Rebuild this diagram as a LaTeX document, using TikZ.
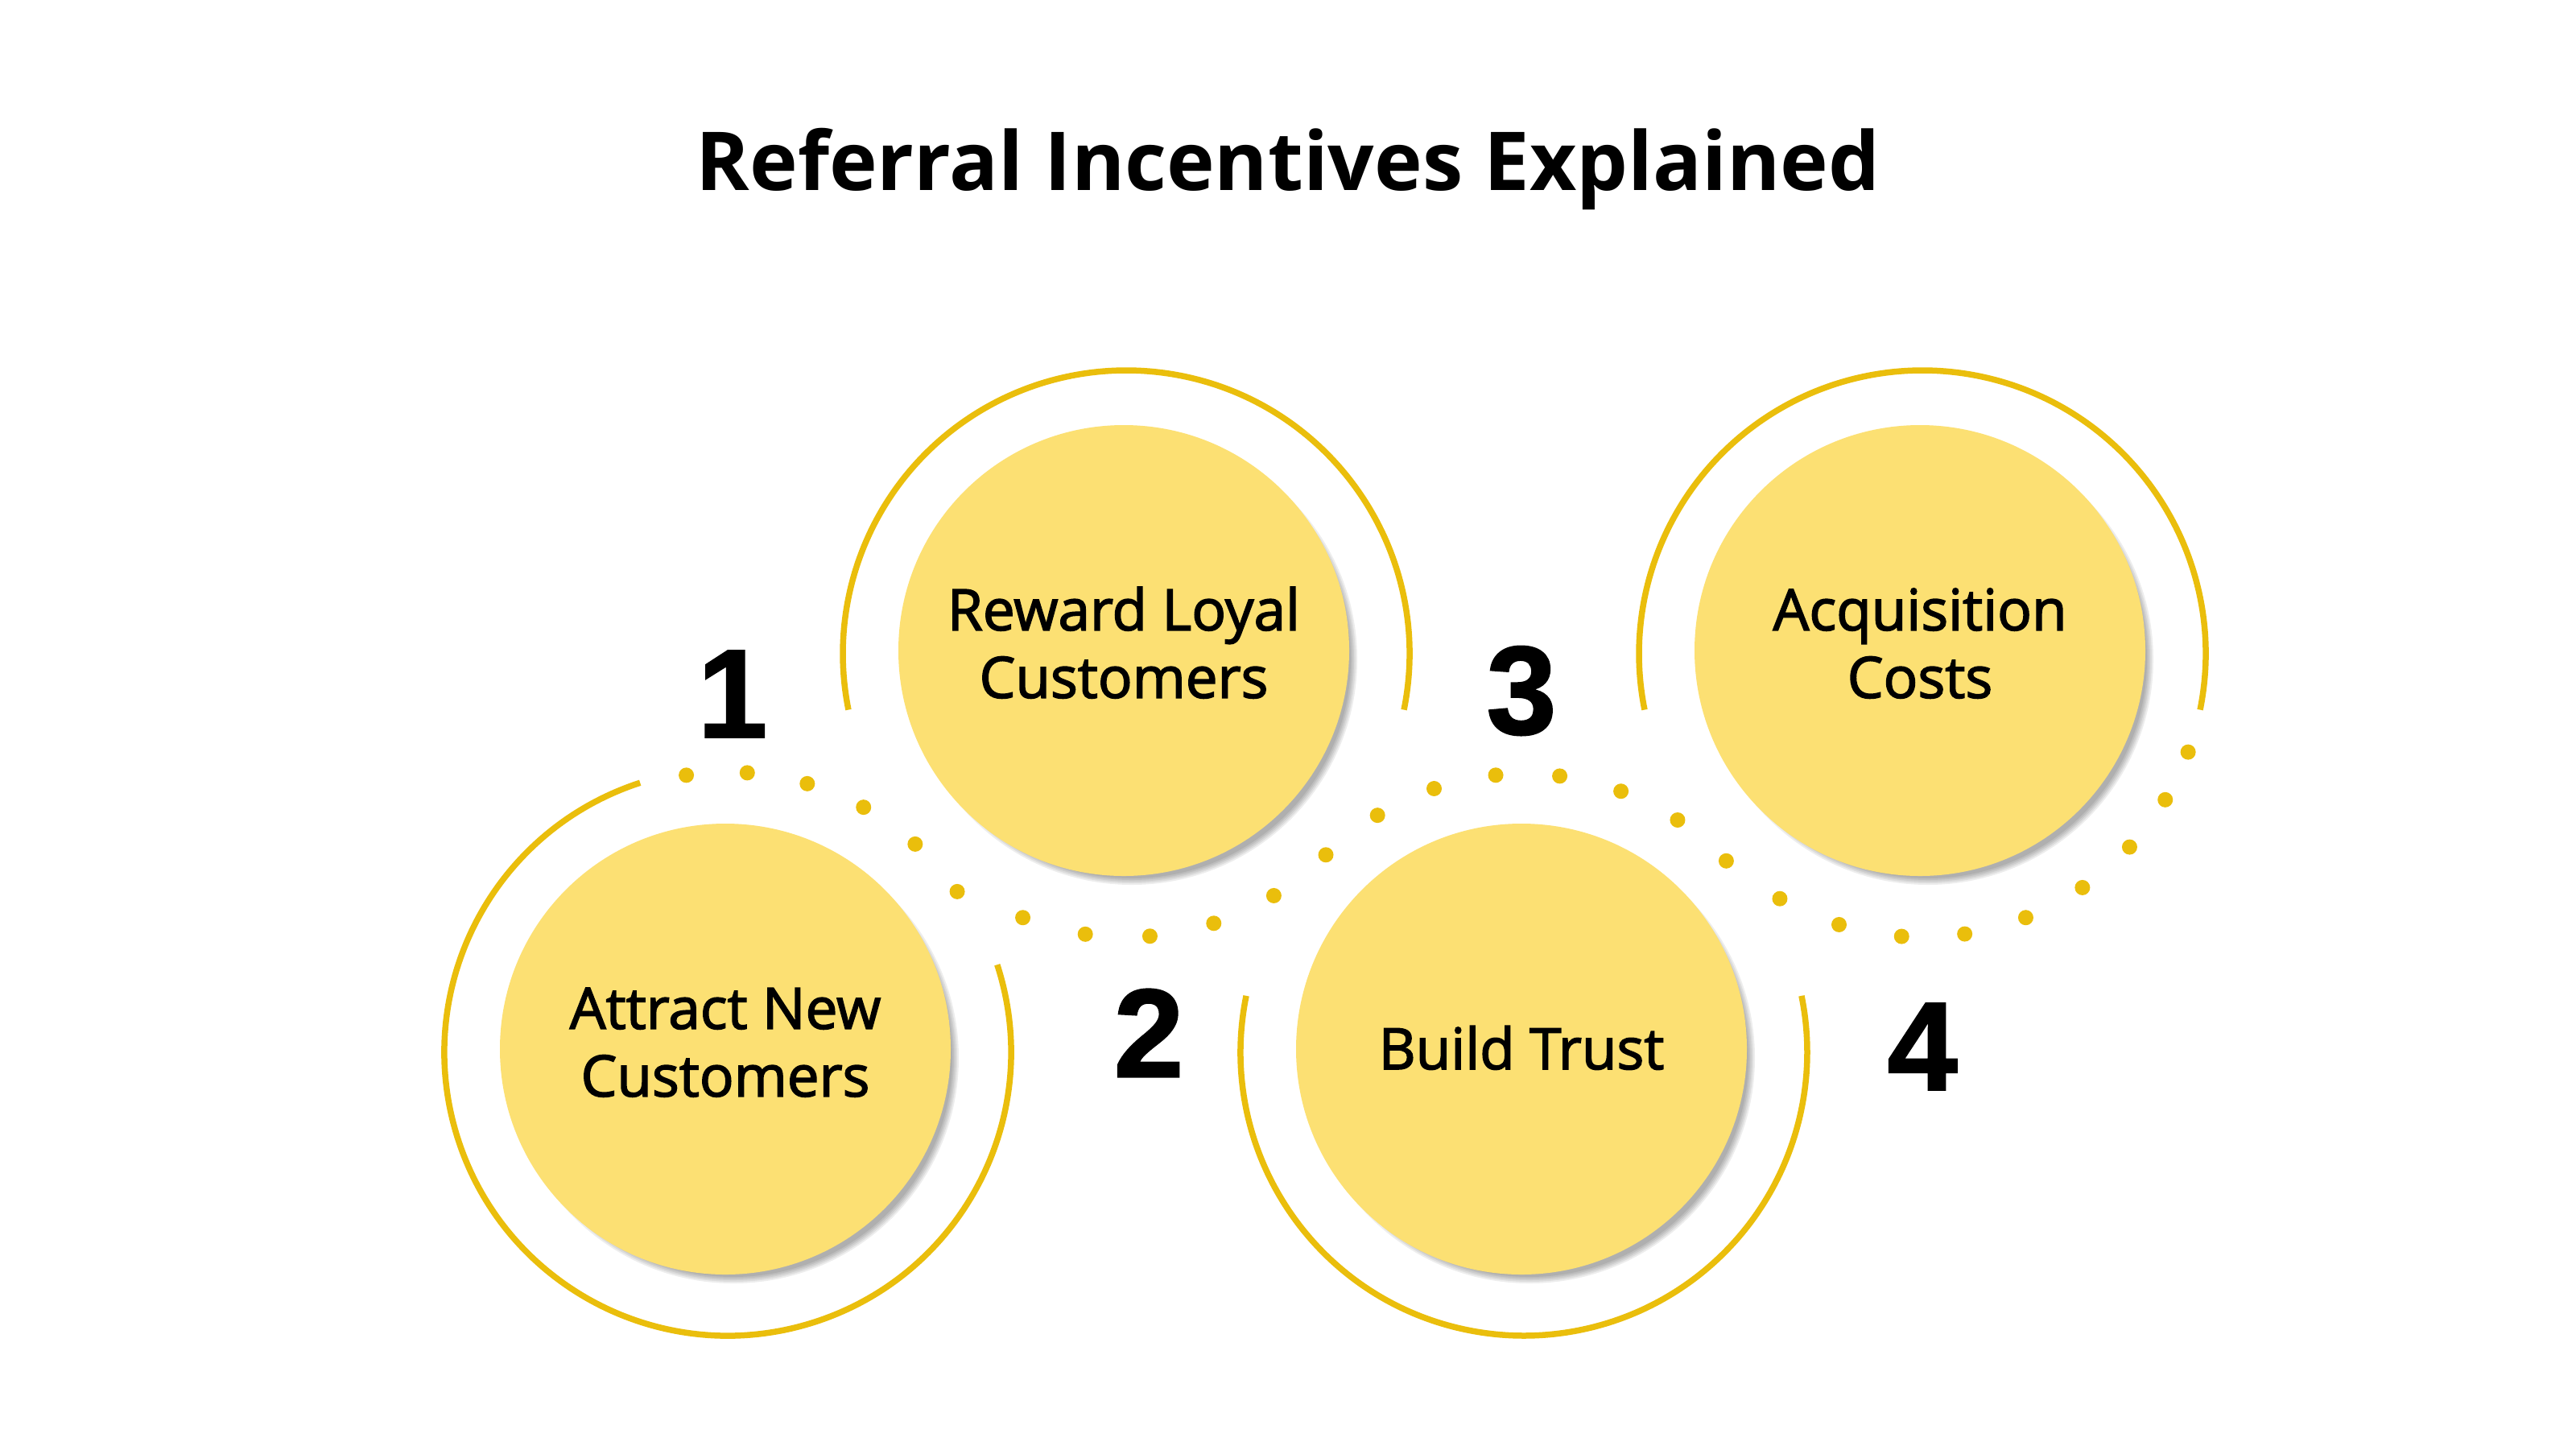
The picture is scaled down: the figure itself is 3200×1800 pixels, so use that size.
\documentclass[tikz,border=0pt]{standalone}
\usepackage{fontspec}
\setmainfont{Open Sans}
\newfontfamily\titlefont{Open Sans}[UprightFont={* Bold}]
\newfontfamily\labelfont{Open Sans}[FakeBold=2.2]
\newfontfamily\numfont{Liberation Sans}[UprightFont={* Bold},FakeBold=1.5]
\definecolor{ringc}{RGB}{234,190,12}
\definecolor{fillc}{RGB}{252,224,115}
\definecolor{txt}{RGB}{0,0,0}
\begin{document}
\begin{tikzpicture}[x=1pt,y=1pt,
  ring/.style={draw=ringc,line width=7.5pt},
  dotc/.style={fill=ringc},
  disc/.style={circle,fill=fillc,minimum size=560pt,inner sep=0pt,align=center,
    font=\labelfont\fontsize{71}{84}\selectfont,text=txt},
  numlabel/.style={font=\numfont\fontsize{156}{156}\selectfont,text=txt,inner sep=0pt},
  titlelabel/.style={font=\titlefont\fontsize{101}{120}\selectfont,text=txt,inner sep=0pt}]
\useasboundingbox[fill=white] (0,0) rectangle (3200,-1800);
\node[titlelabel] (title) at (1600,-210) {Referral Incentives Explained};
% centres
\coordinate (c1) at (904,-1307);
\coordinate (c2) at (1399,-812);
\coordinate (c3) at (1893,-1307);
\coordinate (c4) at (2388,-812);
% rings
\draw[ring] ([shift={(108:352)}]c1) arc[start angle=108,end angle=378,radius=352];
\draw[ring] ([shift={(-11.4:352)}]c2) arc[start angle=-11.4,end angle=191.4,radius=352];
\draw[ring] ([shift={(168.5:352)}]c3) arc[start angle=168.5,end angle=371.5,radius=352];
\draw[ring] ([shift={(-11.4:352)}]c4) arc[start angle=-11.4,end angle=191.4,radius=352];
% dots
\foreach \a in {98.5,86,73.5,61,48,35} \fill[dotc] ([shift={(\a:348)}]c1) circle[radius=9.5];
\foreach \a in {-111.4,-98.3,-85.2,-72,-58.6,-45.2} \fill[dotc] ([shift={(\a:352)}]c2) circle[radius=9.5];
\foreach \a in {121.7,108.8,95.8,82.6,69.6,56.5,43.4} \fill[dotc] ([shift={(\a:346)}]c3) circle[radius=9.5];
\foreach \a in {-120.2,-107.1,-94.2,-81.4,-68.6,-55.6,-43,-31,-20.3} \fill[dotc] ([shift={(\a:352)}]c4) circle[radius=9.5];
% shadows
\foreach \c in {c1,c2,c3,c4}{
  \foreach \k in {0,2,4,6,8}
    \fill[black,opacity=0.07] ([shift={(7,-7)}]\c) circle[radius=272+\k];
}
% discs
\node[disc] (n1) at ([shift={(-3,4)}]c1) {\raisebox{8pt}{\begin{tabular}{c}Attract New\\Customers\end{tabular}}};
\node[disc] (n2) at ([shift={(-3,4)}]c2) {\raisebox{8pt}{\begin{tabular}{c}Reward Loyal\\Customers\end{tabular}}};
\node[disc] (n3) at ([shift={(-3,4)}]c3) {\raisebox{4pt}{Build Trust}};
\node[disc] (n4) at ([shift={(-3,4)}]c4) {\raisebox{8pt}{\begin{tabular}{c}Acquisition\\Costs\end{tabular}}};
% numbers
\node[numlabel] (k1) at (910,-862) {1};
\node[numlabel] (k2) at (1427,-1283) {2};
\node[numlabel] (k3) at (1890,-858) {3};
\node[numlabel] (k4) at (2388,-1300) {4};
\end{tikzpicture}
\end{document}
